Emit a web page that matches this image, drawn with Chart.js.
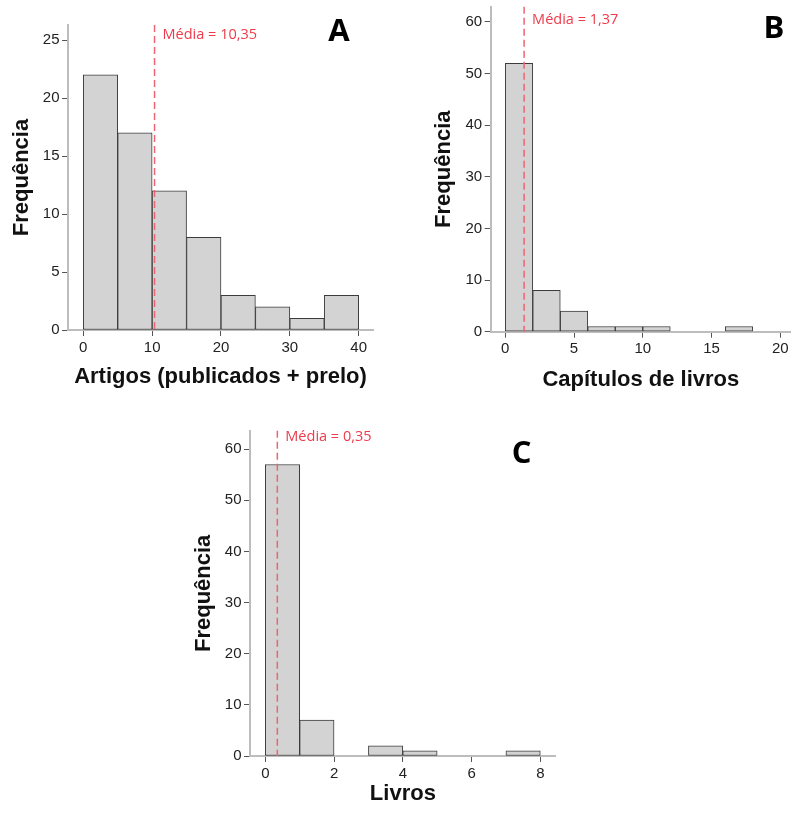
<!DOCTYPE html>
<html lang="pt">
<head>
<meta charset="UTF-8">
<title>Histogramas</title>
<script src="https://cdn.jsdelivr.net/npm/chart.js@4"></script>
<style>
  body { margin: 0; background: #fff; }
  #wrap { position: relative; width: 791px; height: 813px; }
  canvas { position: absolute; }
</style>
</head>
<body>
<div id="wrap">
  <canvas id="chartA" width="400" height="400" style="left:0;top:0"></canvas>
  <canvas id="chartB" width="391" height="400" style="left:400px;top:0"></canvas>
  <canvas id="chartC" width="400" height="403" style="left:180px;top:410px"></canvas>
</div>
<script>
// A - artigos
const artigosInicio = [0, 5, 10, 15, 20, 25, 30, 35];
const artigosFreq = [22, 17, 12, 8, 3, 2, 1, 3];
const artigosLargura = 5;
const artigosMedia = 10.35;
const artigosTicksX = [0, 10, 20, 30, 40];
const artigosTicksY = [0, 5, 10, 15, 20, 25];

// B - capitulos
const capitulosInicio = [0, 2, 4, 6, 8, 10, 16];
const capitulosFreq = [52, 8, 4, 1, 1, 1, 1];
const capitulosLargura = 2;
const capitulosMedia = 1.37;
const capitulosTicksX = [0, 5, 10, 15, 20];
const capitulosTicksY = [0, 10, 20, 30, 40, 50, 60];

// C - livros
const livrosInicio = [0, 1, 3, 4, 7];
const livrosFreq = [57, 7, 2, 1, 1];
const livrosLargura = 1;
const livrosMedia = 0.35;
const livrosTicksX = [0, 2, 4, 6, 8];
const livrosTicksY = [0, 10, 20, 30, 40, 50, 60];

const fonte = '"Liberation Sans", Arial, sans-serif';

const mediaPlugin = {
  id: 'media',
  afterDatasetsDraw(chart, args, opts) {
    const { ctx, chartArea } = chart;
    const x = chart.scales.x.getPixelForValue(opts.valor);
    ctx.save();
    ctx.strokeStyle = '#ef6470';
    ctx.lineWidth = 1.5;
    ctx.setLineDash([7, 4]);
    ctx.beginPath();
    ctx.moveTo(x, chartArea.top);
    ctx.lineTo(x, chartArea.bottom);
    ctx.stroke();
    ctx.setLineDash([]);
    ctx.fillStyle = '#ee3a4a';
    ctx.font = '14.5px "Open Sans", sans-serif';
    ctx.textBaseline = 'alphabetic';
    ctx.fillText('Média = ' + opts.valor.toFixed(2).replace('.', ','), x + 8, chartArea.top + opts.textoY);
    ctx.fillStyle = '#000';
    ctx.font = 'bold 31px "Open Sans", sans-serif';
    ctx.textAlign = 'center';
    ctx.textBaseline = 'middle';
    ctx.fillText(opts.letra, opts.letraX, opts.letraY);
    ctx.restore();
  }
};

function histograma(id, d) {
  const pontos = d.inicio.map((v, i) => ({ x: v + d.largura / 2, y: d.freq[i] }));
  new Chart(document.getElementById(id), {
    type: 'bar',
    data: {
      datasets: [{
        data: pontos,
        backgroundColor: '#d3d3d3',
        borderColor: '#3c3c3c',
        borderWidth: 1,
        borderSkipped: false,
        barPercentage: 1,
        categoryPercentage: 1
      }]
    },
    options: {
      responsive: false,
      animation: false,
      devicePixelRatio: 1,
      layout: { padding: d.padding },
      plugins: {
        legend: { display: false },
        tooltip: { enabled: false },
        media: { valor: d.media, textoY: d.textoY, letra: d.letra, letraX: d.letraX, letraY: d.letraY }
      },
      scales: {
        x: {
          type: 'linear',
          offset: false,
          min: d.xMin,
          max: d.xMax,
          afterBuildTicks: s => { s.ticks = d.ticksX.map(v => ({ value: v })); },
          afterFit: s => { s.height = d.alturaX; s.paddingLeft = 0; s.paddingRight = 0; },
          grid: { display: true, drawOnChartArea: false, drawTicks: true, tickLength: 6, tickColor: '#555', offset: false },
          border: { display: true, color: '#bdbdbd', width: 2 },
          ticks: { font: { family: fonte, size: 15 }, color: '#222', padding: 2.5, maxRotation: 0, autoSkip: false },
          title: {
            display: true, text: d.tituloX, color: '#111',
            font: { family: fonte, size: 22, weight: 'bold', lineHeight: 1 },
            padding: { top: 0, bottom: d.tituloXPad }
          }
        },
        y: {
          type: 'linear',
          min: 0,
          max: d.yMax,
          afterBuildTicks: s => { s.ticks = d.ticksY.map(v => ({ value: v })); },
          afterFit: s => { s.width = d.larguraY; s.paddingTop = 0; s.paddingBottom = 0; },
          grid: { display: true, drawOnChartArea: false, drawTicks: true, tickLength: 6, tickColor: '#555' },
          border: { display: true, color: '#bdbdbd', width: 2 },
          ticks: { font: { family: fonte, size: 15 }, color: '#222', padding: 2.5, autoSkip: false },
          title: {
            display: true, text: 'Frequência', color: '#111',
            font: { family: fonte, size: 22, weight: 'bold', lineHeight: 1 },
            padding: { top: d.tituloYPad, bottom: 0 }
          }
        }
      }
    },
    plugins: [mediaPlugin]
  });
}

histograma('chartA', {
  inicio: artigosInicio, freq: artigosFreq, largura: artigosLargura, media: artigosMedia,
  ticksX: artigosTicksX, ticksY: artigosTicksY,
  xMin: -2.22, xMax: 42.08, yMax: 26.3,
  padding: { left: 0, top: 25, right: 27, bottom: 0 },
  larguraY: 68, alturaX: 70,
  tituloX: 'Artigos (publicados + prelo)', tituloXPad: 11.6, tituloYPad: 11,
  textoY: 14.3, letra: 'A', letraX: 339, letraY: 32
});

histograma('chartB', {
  inicio: capitulosInicio, freq: capitulosFreq, largura: capitulosLargura, media: capitulosMedia,
  ticksX: capitulosTicksX, ticksY: capitulosTicksY,
  xMin: -1.06, xMax: 20.78, yMax: 62.96,
  padding: { left: 0, top: 6.7, right: 0, bottom: 0 },
  larguraY: 90.7, alturaX: 68.3,
  tituloX: 'Capítulos de livros', tituloXPad: 9.3, tituloYPad: 33,
  textoY: 17.3, letra: 'B', letraX: 374, letraY: 29
});

histograma('chartC', {
  inicio: livrosInicio, freq: livrosFreq, largura: livrosLargura, media: livrosMedia,
  ticksX: livrosTicksX, ticksY: livrosTicksY,
  xMin: -0.445, xMax: 8.448, yMax: 63.6,
  padding: { left: 0, top: 20.7, right: 24.3, bottom: 0 },
  larguraY: 70, alturaX: 57,
  tituloX: 'Livros', tituloXPad: 8, tituloYPad: 13,
  textoY: 10, letra: 'C', letraX: 341.7, letraY: 44
});
</script>
</body>
</html>
